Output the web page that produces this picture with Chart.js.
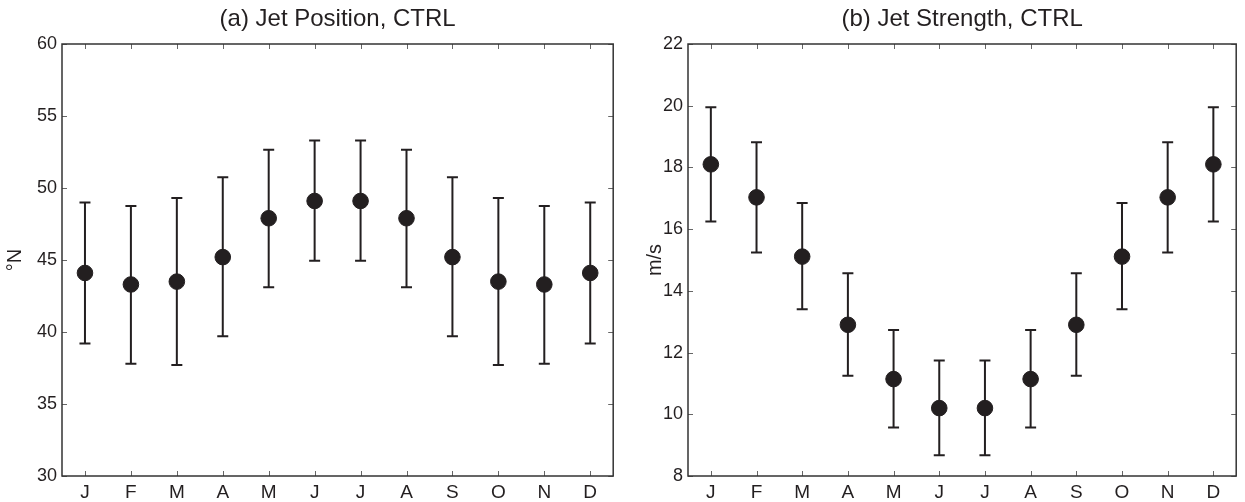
<!DOCTYPE html>
<html>
<head>
<meta charset="utf-8">
<script src="https://cdn.jsdelivr.net/npm/chart.js@4"></script>
<style>
  body{margin:0;background:#fff;}
  .panel{position:absolute;top:0;height:502px;}
  #p1{left:0;width:622px;}
  #p2{left:622px;width:623px;}
</style>
</head>
<body>
<div class="panel" id="p1"><canvas id="chart_pos"></canvas></div>
<div class="panel" id="p2"><canvas id="chart_str"></canvas></div>
<script>
const months=['J','F','M','A','M','J','J','A','S','O','N','D']

// panel (a) jet position, deg N
const pos_mean=[44.1,43.3,43.5,45.2,47.9,49.1,49.1,47.9,45.2,43.5,43.3,44.1]
const pos_low=[39.2,37.8,37.7,39.7,43.1,44.95,44.95,43.1,39.7,37.7,37.8,39.2]
const pos_high=[49.0,48.75,49.3,50.75,52.65,53.3,53.3,52.65,50.75,49.3,48.75,49.0]

// panel (b) jet strength, m/s
const str_mean=[18.1,17.03,15.11,12.9,11.14,10.2,10.2,11.14,12.9,15.11,17.03,18.1]
const str_low=[16.25,15.24,13.4,11.25,9.57,8.67,8.67,9.57,11.25,13.4,15.24,16.25]
const str_high=[19.95,18.82,16.85,14.57,12.73,11.74,11.74,12.73,14.57,16.85,18.82,19.95]

const ink='#231f20'
const fontName="'Liberation Sans', Arial, Helvetica, sans-serif"

// error bars + matlab style box with inward ticks
const errPlugin={
  id:'errbars',
  beforeDatasetsDraw(chart){
    const ctx=chart.ctx
    const xs=chart.scales.x, ys=chart.scales.y
    const lo=chart.options.plugins.errbars.low
    const hi=chart.options.plugins.errbars.high
    ctx.save()
    ctx.strokeStyle=ink
    ctx.lineWidth=2
    for(let i=0;i<lo.length;i++){
      const x=xs.getPixelForValue(i)
      const y1=ys.getPixelForValue(lo[i])
      const y2=ys.getPixelForValue(hi[i])
      ctx.beginPath()
      ctx.moveTo(x,y1);ctx.lineTo(x,y2)
      ctx.moveTo(x-5.5,y1);ctx.lineTo(x+5.5,y1)
      ctx.moveTo(x-5.5,y2);ctx.lineTo(x+5.5,y2)
      ctx.stroke()
    }
    ctx.restore()
  },
  afterDraw(chart){
    const ctx=chart.ctx
    const a=chart.chartArea
    const xs=chart.scales.x, ys=chart.scales.y
    ctx.save()
    ctx.strokeStyle='#666'
    ctx.lineWidth=1
    ctx.beginPath()
    for(let i=0;i<xs.ticks.length;i++){
      const x=Math.round(xs.getPixelForTick(i))+0.5
      ctx.moveTo(x,a.bottom);ctx.lineTo(x,a.bottom-5)
      ctx.moveTo(x,a.top);ctx.lineTo(x,a.top+5)
    }
    for(let i=0;i<ys.ticks.length;i++){
      const y=Math.round(ys.getPixelForTick(i))+0.5
      ctx.moveTo(a.left,y);ctx.lineTo(a.left+5,y)
      ctx.moveTo(a.right,y);ctx.lineTo(a.right-5,y)
    }
    ctx.stroke()
    ctx.strokeStyle='#333'
    ctx.lineWidth=1.5
    ctx.strokeRect(a.left,a.top,a.right-a.left,a.bottom-a.top)
    ctx.restore()
  }
}

function make_chart(id,title,ytitle,mean,low,high,ymin,ymax,step,yw,padRight,titlePad){
  return new Chart(id,{
    type:'line',
    data:{
      labels:months,
      datasets:[{
        data:mean,
        showLine:false,
        pointRadius:7.8,
        pointHoverRadius:7.8,
        pointBackgroundColor:ink,
        pointBorderColor:ink,
        borderColor:ink
      }]
    },
    options:{
      responsive:true,
      maintainAspectRatio:false,
      animation:false,
      layout:{padding:{left:0,right:padRight,top:0,bottom:0}},
      plugins:{
        legend:{display:false},
        tooltip:{enabled:false},
        title:{
          display:true,
          text:title,
          fullSize:false,
          color:ink,
          font:{family:fontName,size:24,weight:'normal'},
          padding:{top:5,bottom:10.2}
        },
        errbars:{low:low,high:high}
      },
      scales:{
        x:{
          type:'category',
          offset:true,
          grid:{display:true,drawOnChartArea:false,drawTicks:false},
          border:{display:false},
          ticks:{color:ink,font:{family:fontName,size:19},padding:5,maxRotation:0,autoSkip:false},
          afterFit(s){s.height=26}
        },
        y:{
          min:ymin,max:ymax,
          grid:{display:true,drawOnChartArea:false,drawTicks:false},
          border:{display:false},
          ticks:{stepSize:step,color:ink,font:{family:fontName,size:18},padding:5},
          title:{display:true,text:ytitle,color:ink,font:{family:fontName,size:20},padding:{top:titlePad,bottom:0}},
          afterFit(s){s.width=yw}
        }
      }
    },
    plugins:[errPlugin]
  })
}

make_chart('chart_pos','(a) Jet Position, CTRL','\u00B0N',pos_mean,pos_low,pos_high,30,60,5,62,8,3)
make_chart('chart_str','(b) Jet Strength, CTRL','m/s',str_mean,str_low,str_high,8,22,2,66,5,21)
</script>
</body>
</html>
